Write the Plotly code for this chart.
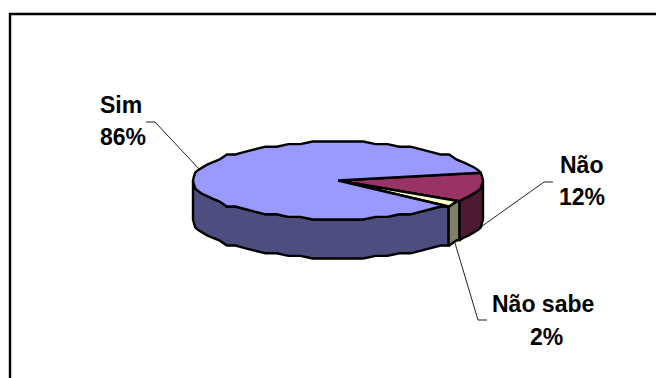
import numpy as np
import plotly.graph_objects as go

# Survey shares, clockwise from the start angle
categories = ["Não", "Não sabe", "Sim"]
values = [12, 2, 86]
top_colors = ["#993366", "#FFFFCC", "#9999FF"]
side_colors = ["#4D1A33", "#808066", "#4D4D80"]

# Pie geometry in page pixels
CX, CY, RX, RY, DEPTH = 338, 180.5, 145, 38.5, 39
START_DEG = 10
FACET_DEG = 5
SNAP = 2.6  # rim heights snap to this step, giving the wavy outline
EDGE = 2.4


def facet_angles(a0, a1):
    """Angles from a0 down to a1, on a regular grid around the rim."""
    lo, hi = min(a0, a1), max(a0, a1)
    k = np.arange(np.ceil(lo / FACET_DEG), np.floor(hi / FACET_DEG) + 1) * FACET_DEG
    inner = k[(k > lo) & (k < hi)][::-1]
    return np.concatenate([[a0], inner, [a1]])


def rim(angles, drop=0):
    t = np.radians(angles)
    x = CX + RX * np.cos(t)
    y = CY - RY * np.sin(t)
    return x, CY + np.round((y - CY) / SNAP) * SNAP + drop


def polygon(x, y, fill):
    return go.Scatter(
        x=x, y=y, mode="lines", fill="toself", fillcolor=fill,
        line=dict(color="#000000", width=EDGE, shape="linear"),
        hoverinfo="skip", showlegend=False,
    )


def leader(x, y):
    return go.Scatter(
        x=x, y=y, mode="lines", line=dict(color="#222222", width=1),
        hoverinfo="skip", showlegend=False,
    )


# Slice boundaries, sweeping clockwise
shares = np.array(values) / sum(values) * 360
ends = START_DEG - np.cumsum(shares)
starts = np.concatenate([[START_DEG], ends[:-1]])

fig = go.Figure()

# Chart frame: left and top edges, running off the page
fig.add_trace(go.Scatter(
    x=[10, 10, 670], y=[400, 14, 14], mode="lines",
    line=dict(color="#000000", width=2.4), hoverinfo="skip", showlegend=False,
))

# Leader lines sit beneath the pie
fig.add_trace(leader([146, 155, 200], [122, 122, 170]))
fig.add_trace(leader([478, 544, 553], [229, 182, 182]))
fig.add_trace(leader([455, 478, 487], [243, 320, 320]))

# Outer walls: only the front half of the rim is visible
for a0, a1, color in zip(starts, ends, side_colors):
    vis0, vis1 = min(a0, 0), max(a1, -180)
    if vis0 <= vis1:
        continue
    ang = facet_angles(vis0, vis1)
    xt, yt = rim(ang)
    xb, yb = rim(ang[::-1], DEPTH)
    fig.add_trace(polygon(
        np.concatenate([xt, xb, xt[:1]]),
        np.concatenate([yt, yb, yt[:1]]),
        color,
    ))

# Top faces as wedges from the hub
for a0, a1, color in zip(starts, ends, top_colors):
    x, y = rim(facet_angles(a0, a1))
    fig.add_trace(polygon(
        np.concatenate([[CX], x, [CX]]),
        np.concatenate([[CY], y, [CY]]),
        color,
    ))

# Bold labels, category line above percentage line
label_pos = {
    "Sim": ((121, 105), (123, 137)),
    "Não": ((581, 165), (582, 197)),
    "Não sabe": ((543, 304), (546, 337)),
}
for name, val in zip(categories, values):
    for (lx, ly), line in zip(label_pos[name], (name, f"{val}%")):
        fig.add_annotation(
            x=lx, y=ly, text=f"<b>{line}</b>", showarrow=False,
            xanchor="center", yanchor="middle", align="center",
            font=dict(family="Liberation Sans", size=23, color="#000000"),
        )

fig.update_layout(
    width=656, height=378,
    margin=dict(l=0, r=0, t=0, b=0),
    paper_bgcolor="#FFFFFF", plot_bgcolor="#FFFFFF",
    xaxis=dict(range=[0, 656], visible=False, fixedrange=True),
    yaxis=dict(range=[378, 0], visible=False, fixedrange=True),
    showlegend=False,
)
fig.write_html("out.html", config=dict(displayModeBar=False))
